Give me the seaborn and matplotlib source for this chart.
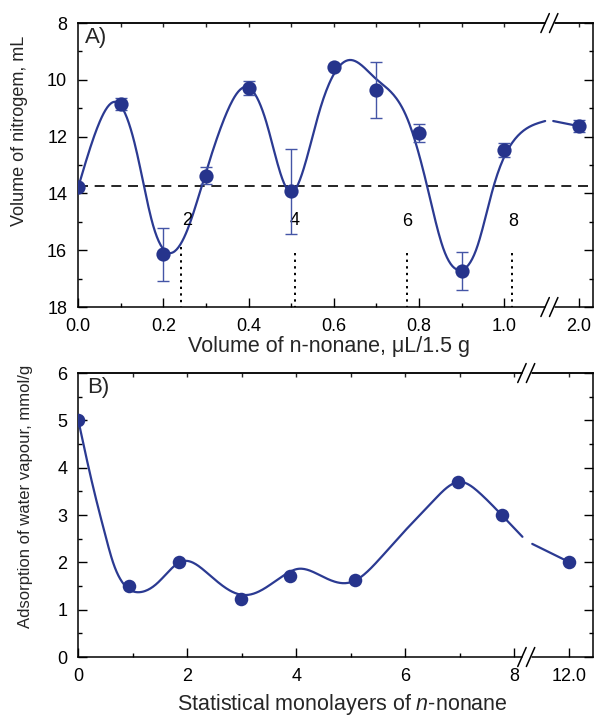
import numpy as np
import matplotlib
matplotlib.use("Agg")
import matplotlib.pyplot as plt
import seaborn as sns

# ---------------- data ----------------
# Panel A : nitrogen volume vs n-nonane volume (x axis broken between 1.0 and 2.0)
A_X = [0.0, 0.1, 0.2, 0.3, 0.4, 0.5, 0.6, 0.7, 0.8, 0.9, 1.0, 2.0]
A_Y = [13.77, 10.85, 16.15, 13.38, 10.29, 13.92, 9.55, 10.36, 11.87, 16.73, 12.47, 11.63]
A_ERR = [0.0, 0.2, 0.93, 0.3, 0.25, 1.5, 0.0, 1.0, 0.33, 0.67, 0.25, 0.2]
A_XTICKS = [0.0, 0.2, 0.4, 0.6, 0.8, 1.0, 2.0]
A_XTICKLABELS = ["0.0", "0.2", "0.4", "0.6", "0.8", "1.0", "2.0"]
A_YTICKS = [8, 10, 12, 14, 16, 18]
A_REF_LEVEL = 13.75
A_MONO_X = [0.24, 0.509, 0.772, 1.019]
A_MONO_TOP = [15.9, 16.1, 16.1, 16.1]
A_MONO_LABELS = ["2", "4", "6", "8"]
A_MONO_LABEL_X = [0.256, 0.508, 0.772, 1.021]
A_MONO_LABEL_Y = [14.95, 14.95, 15.0, 15.0]
# smooth fitted curve (before the break)
A_CURVE1_X = [0.0, 0.049, 0.092, 0.136, 0.174, 0.214, 0.254, 0.292, 0.348, 0.395, 0.442,
              0.48, 0.503, 0.52, 0.567, 0.638, 0.697, 0.772, 0.819, 0.856, 0.897, 0.936,
              0.975, 1.03, 1.096]
A_CURVE1_Y = [13.77, 11.52, 10.8, 12.47, 15.04, 16.1, 15.36, 13.63, 11.17, 10.25, 11.52,
              13.53, 13.95, 13.53, 11.06, 9.3, 9.94, 11.35, 13.75, 15.9, 16.7, 15.9,
              13.75, 12.0, 11.45]
# short piece after the break, ending on the 2.0 point
A_CURVE2_Y = [11.45, 11.63]

# Panel B : water vapour adsorption vs statistical monolayers (x broken between 8 and 12)
B_X = [0.0, 0.93, 1.85, 2.98, 3.88, 5.07, 6.96, 7.77, 12.0]
B_Y = [5.0, 1.50, 2.01, 1.23, 1.71, 1.62, 3.70, 3.0, 2.01]
B_XTICKS = [0, 2, 4, 6, 8, 12.0]
B_XTICKLABELS = ["0", "2", "4", "6", "8", "12.0"]
B_YTICKS = [0, 1, 2, 3, 4, 5, 6]
B_CURVE1_X = [0.0, 0.27, 0.49, 0.64, 0.82, 1.13, 1.45, 1.9, 2.36, 2.84, 3.09, 3.46, 3.88,
              4.02, 4.43, 4.85, 5.07, 5.48, 5.9, 6.5, 7.0, 7.36, 7.77, 8.15]
B_CURVE1_Y = [5.0, 3.6, 2.6, 1.99, 1.56, 1.37, 1.56, 2.02, 1.78, 1.37, 1.31, 1.48, 1.80,
              1.86, 1.73, 1.56, 1.61, 2.01, 2.55, 3.28, 3.70, 3.47, 3.0, 2.54]
B_CURVE2_Y = [2.39, 2.01]

# ---------------- broken-axis placement ----------------
A_GAP_END = 1.115      # curve resumes here after the break (axis units)
A_BREAK_POS = 1.175    # axis position of the 2.0 value
A_BREAK_MARK = 1.106
B_GAP_END = 8.33
B_BREAK_POS = 9.0      # axis position of the 12.0 value
B_BREAK_MARK = 8.22


def disp_a(x):
    x = np.asarray(x, float)
    return np.where(x > 1.5, A_BREAK_POS, x)


def disp_b(x):
    x = np.asarray(x, float)
    return np.where(x > 10.0, B_BREAK_POS, x)


def cspline(xk, yk, n=500):
    xk = np.asarray(xk, float); yk = np.asarray(yk, float)
    m = len(xk)
    if m == 2:
        xs = np.linspace(xk[0], xk[1], 20)
        return xs, np.interp(xs, xk, yk)
    h = np.diff(xk)
    A = np.zeros((m, m)); r = np.zeros(m)
    A[0, 0] = 1; A[-1, -1] = 1
    for i in range(1, m - 1):
        A[i, i - 1] = h[i - 1]; A[i, i] = 2 * (h[i - 1] + h[i]); A[i, i + 1] = h[i]
        r[i] = 6 * ((yk[i + 1] - yk[i]) / h[i] - (yk[i] - yk[i - 1]) / h[i - 1])
    M = np.linalg.solve(A, r)
    xs = np.linspace(xk[0], xk[-1], n)
    i = np.clip(np.searchsorted(xk, xs) - 1, 0, m - 2)
    hi = h[i]; a = xk[i + 1] - xs; b = xs - xk[i]
    ys = (M[i] * a**3 + M[i + 1] * b**3) / (6 * hi) \
        + (yk[i] / hi - M[i] * hi / 6) * a + (yk[i + 1] / hi - M[i + 1] * hi / 6) * b
    return xs, ys


# ---------------- style ----------------
sns.set_theme(style="ticks")
plt.rcParams['font.family'] = ['Liberation Sans', 'DejaVu Sans']
plt.rcParams['mathtext.fontset'] = 'custom'
plt.rcParams['mathtext.rm'] = 'Liberation Sans'
plt.rcParams['mathtext.it'] = 'Liberation Sans:italic'

NAVY = '#26348c'
LINE = '#2b3a92'
ERRC = '#4455a6'
TICK_FS = 13

fig = plt.figure(figsize=(6.0, 7.16), dpi=100)
axA = fig.add_axes([0.1305, 0.5712, 0.8583, 0.3966])
axB = fig.add_axes([0.1305, 0.0824, 0.8583, 0.3966])


def style_axes(ax):
    for s in ax.spines.values():
        s.set_linewidth(1.1)
        s.set_color('black')
    ax.tick_params(which='both', direction='in', right=True, top=False,
                   colors='black', labelsize=TICK_FS, width=1.0, pad=8)
    ax.tick_params(which='major', length=6.5)
    ax.tick_params(which='minor', length=3.2)


def break_marks(ax, xdata):
    fig_w = fig.get_figwidth() * fig.dpi
    fig_h = fig.get_figheight() * fig.dpi
    pos = ax.get_position()
    wpx, hpx = pos.width * fig_w, pos.height * fig_h
    x0, x1 = ax.get_xlim()
    xa = (xdata - x0) / (x1 - x0)
    dx, dy, sep = 4.2 / wpx, 9.5 / hpx, 4.3 / wpx
    for ya in (0.0, 1.0):
        ax.plot([xa - sep, xa + sep], [ya, ya], transform=ax.transAxes, color='white',
                lw=2.5, clip_on=False, zorder=6, solid_capstyle='butt')
        for off in (-sep, sep):
            ax.plot([xa + off - dx, xa + off + dx], [ya - dy, ya + dy], transform=ax.transAxes,
                    color='black', lw=1.1, clip_on=False, zorder=7)


def top_ticks(ax, positions):
    sec = ax.secondary_xaxis('top')
    sec.set_xticks(positions)
    sec.tick_params(direction='in', length=3.2, width=1.0, labeltop=False)
    sec.spines['top'].set_linewidth(1.1)


# ---------------- panel A ----------------
ax = axA
xa_pts = disp_a(A_X)
xs, ys = cspline(A_CURVE1_X, A_CURVE1_Y)
sns.lineplot(x=xs, y=ys, ax=ax, color=LINE, linewidth=1.6, sort=False, estimator=None, zorder=3)
xs, ys = cspline([A_GAP_END, A_BREAK_POS], A_CURVE2_Y)
sns.lineplot(x=xs, y=ys, ax=ax, color=LINE, linewidth=1.6, sort=False, estimator=None, zorder=3)
ax.errorbar(xa_pts, A_Y, yerr=A_ERR, fmt='none', ecolor=ERRC, elinewidth=1.0,
            capsize=4.3, capthick=1.0, zorder=4)
sns.scatterplot(x=xa_pts, y=A_Y, ax=ax, color=NAVY, s=105, linewidth=0, zorder=5)
ax.axhline(A_REF_LEVEL, color='black', lw=1.2, dashes=(6, 4), zorder=2)
ax.vlines(A_MONO_X, A_MONO_TOP, 18, colors='black', linestyles=(0, (1.2, 2.2)), lw=1.4, zorder=2)
for lx, ly, lab in zip(A_MONO_LABEL_X, A_MONO_LABEL_Y, A_MONO_LABELS):
    ax.text(lx, ly, lab, ha='center', va='center', fontsize=TICK_FS, color='black')
ax.set_xlim(0.0, 1.209)
ax.set_ylim(18, 8)
ax.set_xticks(disp_a(A_XTICKS))
ax.set_xticklabels(A_XTICKLABELS)
ax.set_xticks([0.1, 0.3, 0.5, 0.7, 0.9], minor=True)
ax.set_yticks(A_YTICKS)
ax.set_yticks([9, 11, 13, 15, 17], minor=True)
style_axes(ax)
top_ticks(ax, [0.1, 0.2, 0.3, 0.4, 0.5, 0.6, 0.7, 0.8, 0.9, 1.0, A_BREAK_POS])
ax.set_xlabel("Volume of n-nonane, \u03bcL/1.5 g", fontsize=15.5)
ax.set_ylabel("Volume of nitrogem, mL", fontsize=13)
ax.xaxis.set_label_coords(0.486, -0.102)
ax.yaxis.set_label_coords(-0.097, 0.62)
ax.text(0.012, 0.985, "A)", transform=ax.transAxes, fontsize=16, ha='left', va='top')
break_marks(ax, A_BREAK_MARK)

# ---------------- panel B ----------------
ax = axB
xs, ys = cspline(B_CURVE1_X, B_CURVE1_Y)
sns.lineplot(x=xs, y=ys, ax=ax, color=LINE, linewidth=1.6, sort=False, estimator=None, zorder=3)
xs, ys = cspline([B_GAP_END, B_BREAK_POS], B_CURVE2_Y)
sns.lineplot(x=xs, y=ys, ax=ax, color=LINE, linewidth=1.6, sort=False, estimator=None, zorder=3)
sns.scatterplot(x=disp_b(B_X), y=B_Y, ax=ax, color=NAVY, s=95, linewidth=0, zorder=5)
ax.set_xlim(0, 9.45)
ax.set_ylim(0, 6)
ax.set_xticks(disp_b(B_XTICKS))
ax.set_xticklabels(B_XTICKLABELS)
ax.set_xticks([1, 3, 5, 7], minor=True)
ax.set_yticks(B_YTICKS)
ax.set_yticks(np.arange(0.5, 6, 1.0), minor=True)
style_axes(ax)
top_ticks(ax, [1, 2, 3, 4, 5, 6, 7, 8, B_BREAK_POS])
ax.set_xlabel("Statistical monolayers of $\\mathit{n}$-nonane", fontsize=15.5)
ax.set_ylabel("Adsorption of water vapour, mmol/g", fontsize=12)
ax.xaxis.set_label_coords(0.513, -0.125)
ax.yaxis.set_label_coords(-0.087, 0.567)
ax.text(0.018, 0.985, "B)", transform=ax.transAxes, fontsize=16, ha='left', va='top')
break_marks(ax, B_BREAK_MARK)

fig.savefig("out.png", dpi=100)
